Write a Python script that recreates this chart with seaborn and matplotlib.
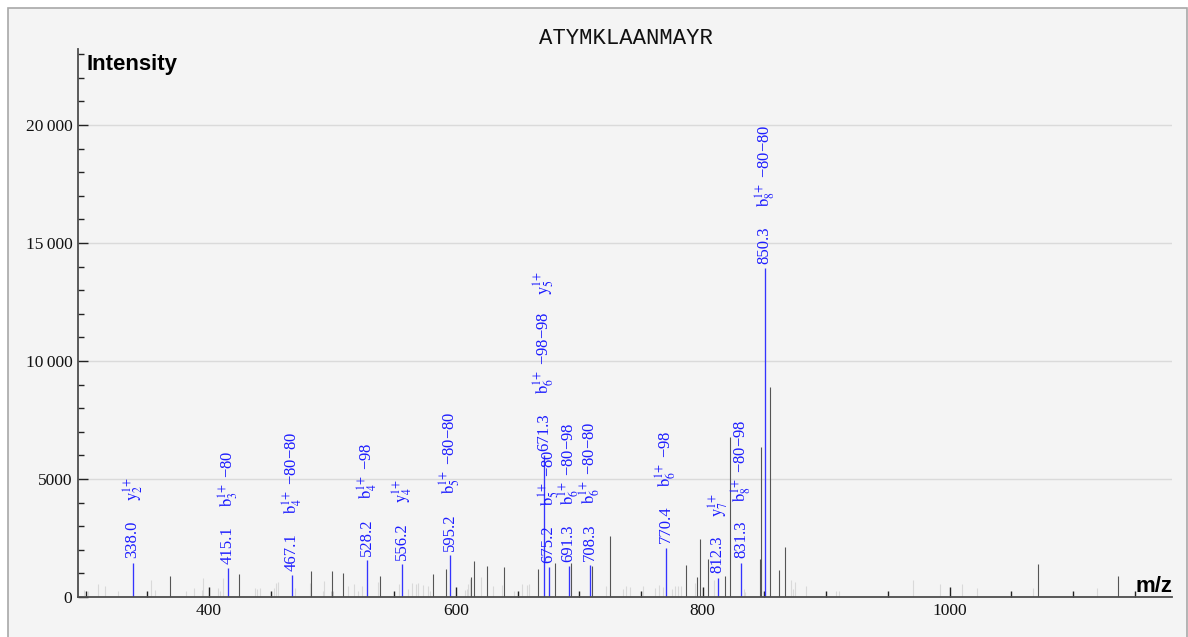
import re
import pandas as pd
import seaborn as sns
import matplotlib.pyplot as plt
from matplotlib.patches import Rectangle
from matplotlib.ticker import MultipleLocator, FuncFormatter

peptide = 'ATYMKLAANMAYR'

# annotated fragment peaks (m/z, intensity, matched ions)
ann_mz = [338.0, 415.1, 467.1, 528.2, 556.2, 595.2, 671.3, 675.2,
          691.3, 708.3, 770.4, 812.3, 831.3, 850.3]
ann_intensity = [1460, 1220, 940, 1560, 1390, 1760, 6000, 1270,
                 1314, 1340, 2090, 820, 1455, 13940]
ann_ions = [['y2'], ['b3-80'], ['b4-80-80'], ['b4-98'], ['y4'], ['b5-80-80'],
            ['b6-98-98', 'y5'], ['b5-80'], ['b6-80-98'], ['b6-80-80'],
            ['b6-98'], ['y7'], ['b8-80-98'], ['b8-80-80']]

# unannotated peaks
other_mz = [368.0, 424.0, 482.4, 499.5, 508.4, 538.4, 581.3, 592.4, 612.4,
            614.5, 625.1, 639.4, 666.5, 680.5, 693.5, 710.5, 725.1, 786.7,
            795.4, 797.5, 804.3, 818.3, 822.4, 846.5, 847.3, 854.2, 861.5,
            866.4, 1071.5, 1136.4]
other_intensity = [875, 990, 1100, 1090, 1030, 880, 990, 1200, 850,
                   1520, 1300, 1270, 1170, 1455, 1440, 1300, 2570, 1340,
                   850, 2470, 1625, 890, 6780, 1600, 6350, 8910, 1160,
                   2120, 1410, 875]

# weak noise peaks
noise_mz = [298.5, 302.0, 310.0, 316.0, 326.0, 353.0, 356.5, 381.0, 387.6,
            394.0, 395.4, 407.0, 409.0, 411.0, 437.0, 439.0, 441.0, 453.0,
            454.5, 456.0, 470.0, 481.6, 492.7, 493.5, 512.4, 517.3, 521.0,
            524.3, 536.7, 554.0, 561.0, 564.3, 568.0, 569.7, 573.2, 577.8,
            579.4, 607.5, 609.0, 610.2, 611.6, 620.3, 630.0, 637.3, 647.5,
            653.5, 657.6, 659.4, 721.6, 724.5, 735.4, 737.5, 741.3, 751.6,
            761.0, 764.6, 767.8, 775.1, 777.2, 779.7, 782.4, 793.5, 809.4,
            833.5, 834.5, 871.3, 873.5, 875.1, 883.7, 908.0, 910.7, 970.5,
            992.6, 1010.2, 1022.4, 1067.8, 1119.6]
noise_intensity = [280, 250, 565, 450, 240, 700, 280, 250, 380,
                   280, 800, 380, 240, 800, 400, 340, 400, 400,
                   600, 620, 380, 600, 250, 660, 450, 560, 250,
                   450, 620, 560, 350, 600, 560, 580, 520, 480,
                   250, 300, 350, 560, 760, 850, 450, 520, 255,
                   540, 500, 540, 450, 300, 320, 480, 420, 480,
                   400, 520, 420, 350, 470, 480, 470, 600, 700,
                   350, 210, 700, 350, 630, 450, 240, 240, 735,
                   565, 565, 380, 380, 380]


def ion_label(ion):
    series, number, losses = re.match(r'([a-z])(\d+)(.*)', ion).groups()
    text = r'$\mathrm{%s}_{%s}^{1\!+}$' % (series, number)
    if losses:
        text += ' ' + losses.replace('-', '\u2212')
    return text


def y_format(v, _):
    v = int(round(v))
    if v < 10000:
        return str(v)
    return f'{v // 1000}\u2009{v % 1000:03d}'


sns.set_theme(style='ticks')
plt.rcParams['font.family'] = ['Liberation Serif', 'DejaVu Serif']
plt.rcParams['mathtext.fontset'] = 'stix'

blue_text = '#1c1cff'
blue_line = '#3434ff'

fig = plt.figure(figsize=(11.88, 6.37), dpi=100)
fig.patch.set_facecolor('white')
fig.add_artist(Rectangle((8 / 1188, -0.02), 1179 / 1188, 629 / 637 + 0.02,
                         transform=fig.transFigure, facecolor='#f4f4f4',
                         edgecolor='#a8a8a8', lw=1.2, zorder=-10))

ax = fig.add_axes([0.06566, 0.0628, 0.92129, 0.85965])
ax.set_facecolor('none')

noise = pd.DataFrame({'mz': noise_mz, 'intensity': noise_intensity})
other = pd.DataFrame({'mz': other_mz, 'intensity': other_intensity})
ann = pd.DataFrame({'mz': ann_mz, 'intensity': ann_intensity})

ax.vlines(noise['mz'], 0, noise['intensity'], color='#d9d9d9', lw=0.8, zorder=2)
ax.vlines(other['mz'], 0, other['intensity'], color='#555555', lw=0.8, zorder=3)
ax.vlines(ann['mz'], 0, ann['intensity'], color=blue_line, lw=0.95, zorder=4)

ax.set_xlim(293.8, 1180.7)
ax.set_ylim(0, 23200)

ax.xaxis.set_major_locator(MultipleLocator(200))
ax.xaxis.set_minor_locator(MultipleLocator(50))
ax.yaxis.set_major_locator(MultipleLocator(5000))
ax.yaxis.set_minor_locator(MultipleLocator(1000))
ax.yaxis.set_major_formatter(FuncFormatter(y_format))
ax.tick_params(which='major', direction='in', length=7, width=1,
               color='#222222', labelsize=12.5, labelcolor='#111111', pad=4)
ax.tick_params(which='minor', direction='in', length=4.5, width=1,
               color='#222222')
ax.grid(axis='y', which='major', color='#dadada', lw=1)
ax.set_axisbelow(True)

sns.despine(ax=ax)
for side in ['left', 'bottom']:
    ax.spines[side].set_color('#4d4d4d')
    ax.spines[side].set_linewidth(1.3)
    ax.spines[side].set_zorder(5)

renderer = fig.canvas.get_renderer()
for mz, inten, ions in zip(ann_mz, ann_intensity, ann_ions):
    ax.annotate(f'{mz:.1f}', (mz, inten), xytext=(0, 3), textcoords='offset points',
                rotation=90, ha='center', va='bottom', color=blue_text,
                fontsize=12, zorder=6)
    offset = 44
    for ion in ions:
        t = ax.annotate(ion_label(ion), (mz, inten), xytext=(0, offset),
                        textcoords='offset points', rotation=90, ha='center',
                        va='bottom', color=blue_text, fontsize=12, zorder=6)
        offset += t.get_window_extent(renderer).height * 72 / fig.dpi + 12

fig.text(626 / 1188, 1 - 44.5 / 637, peptide, family='Liberation Mono',
         fontsize=16, ha='center', va='baseline', color='#111111')
fig.text(86 / 1188, 1 - 70 / 637, 'Intensity', family='Liberation Sans',
         fontweight='bold', fontsize=16, ha='left', va='baseline', color='black')
fig.text(1172 / 1188, 1 - 591.5 / 637, 'm/z', family='Liberation Sans',
         fontweight='bold', fontsize=16, ha='right', va='baseline', color='black')

fig.savefig('out.png', dpi=100)
